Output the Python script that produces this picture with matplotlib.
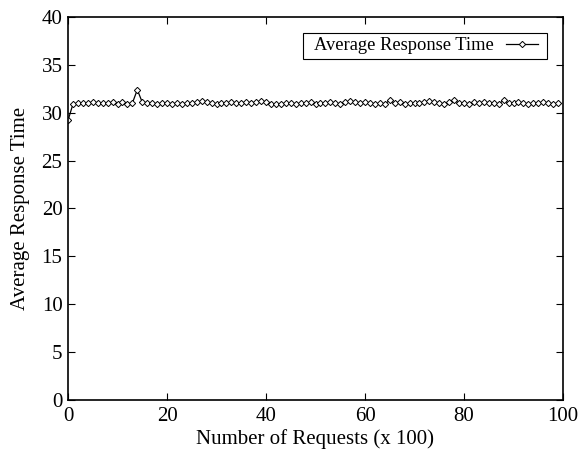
import matplotlib
matplotlib.use("Agg")
import matplotlib.pyplot as plt
from matplotlib.patches import Rectangle

plt.rcParams['font.family'] = ['Liberation Serif', 'DejaVu Serif']

requests = list(range(100))
response_time = [
    29.2, 30.9, 31.0, 31.0, 31.0, 31.1, 31.0, 31.0, 31.0, 31.1,
    30.9, 31.1, 30.9, 31.0, 32.4, 31.1, 31.0, 31.0, 30.9, 31.0,
    31.0, 30.9, 31.0, 30.9, 31.0, 31.0, 31.1, 31.2, 31.1, 31.0,
    30.9, 31.0, 31.0, 31.1, 31.0, 31.0, 31.1, 31.0, 31.1, 31.2,
    31.1, 30.9, 30.9, 30.9, 31.0, 31.0, 30.9, 31.0, 31.0, 31.1,
    30.9, 31.0, 31.0, 31.1, 31.0, 30.9, 31.1, 31.2, 31.1, 31.0,
    31.1, 31.0, 30.9, 31.0, 30.9, 31.3, 31.0, 31.1, 30.9, 31.0,
    31.0, 31.0, 31.1, 31.2, 31.1, 31.0, 30.9, 31.1, 31.3, 31.0,
    31.0, 30.9, 31.1, 31.0, 31.1, 31.0, 31.0, 30.9, 31.3, 31.0,
    31.0, 31.1, 31.0, 30.9, 31.0, 31.0, 31.1, 31.0, 30.9, 31.0,
]

W, H = 579, 453
fig = plt.figure(figsize=(5.79, 4.53), dpi=100)
ax = fig.add_axes([68/W, 1 - 400/H, (563-68)/W, (400-17)/H])

ax.plot(requests, response_time, color='black', linewidth=0.9,
        marker='D', markersize=3.2, markerfacecolor='white',
        markeredgecolor='black', markeredgewidth=0.7,
        label='Average Response Time')

ax.set_xlim(0, 100)
ax.set_ylim(0, 40)
ax.set_xticks([0, 20, 40, 60, 80, 100])
ax.set_yticks([0, 5, 10, 15, 20, 25, 30, 35, 40])
ax.tick_params(direction='in', length=5, width=0.8, labelsize=15,
               top=True, right=True)
ax.tick_params(axis='x', pad=5)
ax.tick_params(axis='y', pad=4)
for s in ax.spines.values():
    s.set_linewidth(1.2)

ax.set_xlabel('Number of Requests (x 100)', fontsize=15, labelpad=2)
ax.set_ylabel('Average Response Time', fontsize=15, labelpad=8)

# legend frame drawn separately to match the wider horizontal padding
frame = Rectangle((303/W, 1 - 59/H), (547-303)/W, (59-33)/H,
                  transform=fig.transFigure, facecolor='white',
                  edgecolor='black', linewidth=0.8, zorder=5)
fig.add_artist(frame)
leg = fig.legend(loc='center right', fontsize=13.3, frameon=False,
                 handlelength=1.73, handletextpad=0.65, markerfirst=False,
                 borderpad=0, borderaxespad=0,
                 bbox_to_anchor=(538/W, 1 - 46/H))
leg.set_zorder(6)

fig.savefig('out.png', dpi=100)
